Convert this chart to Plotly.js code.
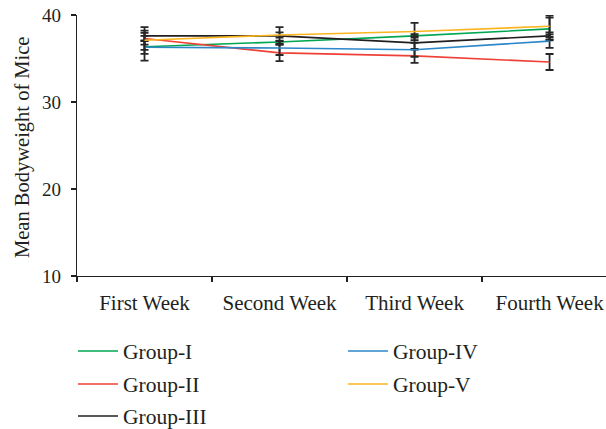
<!DOCTYPE html>
<html>
<head>
<meta charset="utf-8">
<script src="https://cdn.plot.ly/plotly-3.0.1.min.js"></script>
<style>html,body{margin:0;padding:0;background:#fff;}#chart{width:606px;height:429px;}</style>
</head>
<body>
<div id="chart"></div>
<script>
const weeks = ['First Week', 'Second Week', 'Third Week', 'Fourth Week'];
const groupNames = ['Group-I', 'Group-II', 'Group-III', 'Group-IV', 'Group-V'];
const groupI   = [36.35, 36.9, 37.6, 38.4];
const groupII  = [37.3, 35.65, 35.3, 34.6];
const groupIII = [37.6, 37.6, 36.8, 37.6];
const groupIV  = [36.3, 36.2, 36.0, 37.0];
const groupV   = [37.1, 37.7, 38.1, 38.7];
const errI   = [1.6, 0.15, 0.2, 1.3];
const errII  = [0.3, 0.95, 0.8, 0.92];
const errIII = [1.0, 1.0, 0.77, 0.4];
const errIV  = [0.77, 0.8, 0.8, 0.77];
const errV   = [1.1, 0.3, 1.0, 1.23];
const yTitle = 'Mean Bodyweight of Mice';

const colors = ['#00a651', '#ee4036', '#231f20', '#2b87c8', '#fbb520'];
const series = [groupI, groupII, groupIII, groupIV, groupV];
const errs = [errI, errII, errIII, errIV, errV];
const legendIds = ['legend', 'legend2', 'legend3', 'legend4', 'legend5'];
const FONT = 'Liberation Serif, Times New Roman, serif';

const traces = series.map((ys, i) => ({
  type: 'scatter', mode: 'lines', x: weeks, y: ys, name: groupNames[i],
  line: {color: colors[i], width: 1.6},
  error_y: {type: 'data', array: errs[i], visible: true, color: '#262626', thickness: 1.8, width: 4},
  legend: legendIds[i], cliponaxis: false
}));

// legend positions (container coordinates, px)
const legPos = [[73, 351], [73, 384], [73, 416], [343, 351], [343, 384]];
const layout = {
  width: 606, height: 429,
  margin: {l: 77, r: 0, t: 15, b: 153, autoexpand: false},
  paper_bgcolor: '#fff', plot_bgcolor: '#fff',
  font: {family: FONT, size: 19, color: '#231f20'},
  showlegend: true,
  xaxis: {
    type: 'category', range: [-0.5, 3.418], tickson: 'boundaries', tickangle: 0,
    showline: true, linecolor: '#231f20', linewidth: 1.3,
    ticks: 'outside', ticklen: 5, tickcolor: '#231f20', tickwidth: 1.3,
    showgrid: false, zeroline: false, ticklabelstandoff: 7,
    tickfont: {family: FONT, size: 21, color: '#231f20'}
  },
  yaxis: {
    range: [10, 40], tickvals: [10, 20, 30, 40],
    showline: true, linecolor: '#231f20', linewidth: 1.3,
    ticks: 'outside', ticklen: 5, tickcolor: '#231f20', tickwidth: 1.3,
    showgrid: false, zeroline: false, ticklabelstandoff: 6,
    tickfont: {family: FONT, size: 19, color: '#231f20'}
  },
  annotations: [{
    text: yTitle, textangle: -90, showarrow: false,
    xref: 'paper', yref: 'paper', x: (22 - 77) / 529, y: (276 - 148) / 261,
    xanchor: 'center', yanchor: 'middle',
    font: {family: FONT, size: 20.5, color: '#231f20'}
  }]
};
legendIds.forEach((id, i) => {
  layout[id] = {
    xref: 'container', yref: 'container',
    x: legPos[i][0] / 606, y: 1 - legPos[i][1] / 429,
    xanchor: 'left', yanchor: 'middle', itemwidth: 40,
    bgcolor: 'rgba(0,0,0,0)', borderwidth: 0,
    font: {family: FONT, size: 21.5, color: '#231f20'}
  };
});
Plotly.newPlot('chart', traces, layout, {displayModeBar: false, staticPlot: true});
</script>
</body>
</html>
